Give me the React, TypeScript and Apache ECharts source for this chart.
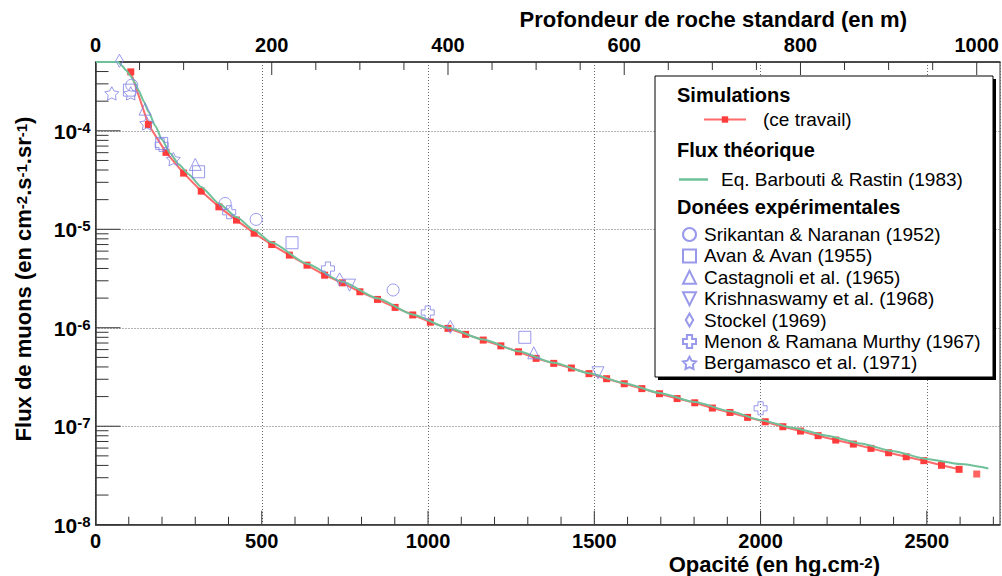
import { useEffect, useRef } from "react";
import * as echarts from "echarts";

const FONT = "'Liberation Sans', Arial, Helvetica, sans-serif";
const BLUE = "#8080e6";
const RED_PT = "#ff3c3c";
const RED_LINE = "#ff6a6a";
const GREEN = "#6fc199";
const AXIS = "#333333";
const GRIDLINE = "#666666";

// Axis ranges
const xMin = 0;
const xMax = 2720; // hg.cm-2
const rockFactor = 2.65; // hg.cm-2 per metre of standard rock
const yMin = 1e-8;
const yMax = 5e-4;

// Bottom axis ticks (opacity) and top axis ticks (metres)
const xMajorTicks = [0, 500, 1000, 1500, 2000, 2500];
const xMinorTicks = [100, 200, 300, 400, 600, 700, 800, 900, 1100, 1200, 1300, 1400, 1600, 1700, 1800, 1900, 2100, 2200, 2300, 2400, 2600, 2700];
const topMajorTicks = [0, 200, 400, 600, 800, 1000];
const topMinorTicks = [50, 100, 150, 250, 300, 350, 450, 500, 550, 650, 700, 750, 850, 900, 950];
const yMajorTicks = [1e-8, 1e-7, 1e-6, 1e-5, 1e-4];
const yMinorTicks = [
  2e-8, 3e-8, 4e-8, 5e-8, 6e-8, 7e-8, 8e-8, 9e-8,
  2e-7, 3e-7, 4e-7, 5e-7, 6e-7, 7e-7, 8e-7, 9e-7,
  2e-6, 3e-6, 4e-6, 5e-6, 6e-6, 7e-6, 8e-6, 9e-6,
  2e-5, 3e-5, 4e-5, 5e-5, 6e-5, 7e-5, 8e-5, 9e-5,
  2e-4, 3e-4, 4e-4,
];

// Simulations (ce travail)
const simOpacity = [106, 159, 212, 265, 318, 371, 424, 477, 530, 583, 636, 689, 742, 795, 848, 901, 954, 1007, 1060, 1113, 1166, 1219, 1272, 1325, 1378, 1431, 1484, 1537, 1590, 1643, 1696, 1749, 1802, 1855, 1908, 1961, 2014, 2067, 2120, 2173, 2226, 2279, 2332, 2385, 2438, 2491, 2544, 2597, 2650];
const simFlux = [3.97e-4, 1.16e-4, 6.04e-5, 3.72e-5, 2.44e-5, 1.69e-5, 1.24e-5, 9.12e-6, 7.0e-6, 5.47e-6, 4.32e-6, 3.42e-6, 2.86e-6, 2.32e-6, 1.94e-6, 1.61e-6, 1.35e-6, 1.14e-6, 9.86e-7, 8.57e-7, 7.5e-7, 6.55e-7, 5.7e-7, 4.89e-7, 4.35e-7, 3.9e-7, 3.42e-7, 3.04e-7, 2.7e-7, 2.41e-7, 2.14e-7, 1.91e-7, 1.73e-7, 1.53e-7, 1.38e-7, 1.23e-7, 1.11e-7, 9.89e-8, 8.93e-8, 8.02e-8, 7.24e-8, 6.59e-8, 5.96e-8, 5.38e-8, 4.9e-8, 4.47e-8, 4.01e-8, 3.65e-8, 3.27e-8];

// Flux théorique (Barbouti & Rastin 1983)
const theoOpacity = [0, 68, 80, 92, 105, 118, 130, 145, 160, 180, 200, 225, 250, 280, 318, 371, 424, 477, 530, 636, 742, 848, 954, 1060, 1166, 1272, 1378, 1484, 1590, 1696, 1802, 1908, 2000, 2100, 2200, 2300, 2400, 2500, 2600, 2685];
const theoFlux = [5.0e-4, 5.0e-4, 4.57e-4, 4.12e-4, 3.63e-4, 3.09e-4, 2.57e-4, 2.0e-4, 1.55e-4, 1.12e-4, 8.13e-5, 5.89e-5, 4.57e-5, 3.63e-5, 2.69e-5, 1.83e-5, 1.33e-5, 9.77e-6, 7.33e-6, 4.47e-6, 2.93e-6, 1.99e-6, 1.36e-6, 9.98e-7, 7.59e-7, 5.77e-7, 4.4e-7, 3.46e-7, 2.74e-7, 2.18e-7, 1.76e-7, 1.42e-7, 1.156e-7, 9.62e-8, 8.02e-8, 6.68e-8, 5.57e-8, 4.65e-8, 4.13e-8, 3.73e-8];

// Données expérimentales [opacité, flux]
const srikantan = [[109, 2.91e-4], [390, 1.83e-5], [483, 1.26e-5], [895, 2.42e-6]];
const avan = [[102, 2.59e-4], [199, 7.45e-5], [310, 3.84e-5], [591, 7.3e-6], [1291, 8.0e-7]];
const castagnoli = [[149, 1.66e-4], [300, 4.56e-5], [1318, 5.57e-7]];
const krishnaswamy = [[764, 2.71e-6], [1511, 3.49e-7]];
const stockel = [[72, 5.15e-4], [734, 3.1e-6], [1067, 1.02e-6]];
const menon = [[199, 7.2e-5], [402, 1.49e-5], [699, 4.0e-6], [999, 1.43e-6], [2000, 1.52e-7]];
const bergamasco = [[49, 2.4e-4], [106, 2.4e-4], [154, 1.19e-4], [234, 5.16e-5]];

const SYM_TRI_DOWN = "path://M0,0L10,0L5,10Z";
const SYM_DIAMOND = "path://M4,0L8,7L4,14L0,7Z";
const SYM_CROSS = "path://M3,0L7,0L7,3L10,3L10,7L7,7L7,10L3,10L3,7L0,7L0,3L3,3Z";
const SYM_STAR = "path://M5,0L6.53,2.9L9.76,3.46L7.47,5.8L7.94,9.05L5,7.6L2.06,9.05L2.53,5.8L0.24,3.46L3.47,2.9Z";

const expSeries = [
  { name: "Srikantan & Naranan (1952)", data: srikantan, symbol: "circle", size: 12 },
  { name: "Avan & Avan (1955)", data: avan, symbol: "rect", size: 12 },
  { name: "Castagnoli et al. (1965)", data: castagnoli, symbol: "triangle", size: 12 },
  { name: "Krishnaswamy et al. (1968)", data: krishnaswamy, symbol: SYM_TRI_DOWN, size: 12 },
  { name: "Stockel (1969)", data: stockel, symbol: SYM_DIAMOND, size: 13 },
  { name: "Menon & Ramana Murthy (1967)", data: menon, symbol: SYM_CROSS, size: 13 },
  { name: "Bergamasco et al. (1971)", data: bergamasco, symbol: SYM_STAR, size: 14 },
];

const richTitle = {
  b: { fontSize: 22, fontWeight: "bold", fontFamily: FONT, color: "#000", lineHeight: 20, verticalAlign: "bottom" },
  s: { fontSize: 15, fontWeight: "bold", fontFamily: FONT, color: "#000", lineHeight: 13, verticalAlign: "top" },
};

function tickSeries(data: number[][], xAxisIndex: number, dir: "up" | "down" | "right", majorLen: number, minorLen: number) {
  return {
    type: "custom",
    xAxisIndex,
    yAxisIndex: 0,
    silent: true,
    clip: false,
    z: 8,
    data,
    renderItem: (_p: any, api: any) => {
      const pt = api.coord([api.value(0), api.value(1)]);
      const len = api.value(2) ? majorLen : minorLen;
      let x2 = pt[0], y2 = pt[1];
      if (dir === "up") y2 = pt[1] - len;
      if (dir === "down") y2 = pt[1] + len;
      if (dir === "right") x2 = pt[0] + len;
      return {
        type: "line",
        shape: { x1: pt[0], y1: pt[1], x2, y2 },
        style: { stroke: AXIS, lineWidth: 1 },
      };
    },
  };
}

export default function App() {
  const ref = useRef<HTMLDivElement>(null);
  useEffect(() => {
    const chart = echarts.init(ref.current!, null, { renderer: "svg" });

    const bottomTickData = [
      ...xMajorTicks.map((v) => [v, yMin, 1]),
      ...xMinorTicks.map((v) => [v, yMin, 0]),
    ];
    const topTickData = [
      ...topMajorTicks.map((v) => [v, yMax, 1]),
      ...topMinorTicks.map((v) => [v, yMax, 0]),
    ];
    const yTickData = [
      ...yMajorTicks.map((v) => [xMin, v, 1]),
      ...yMinorTicks.map((v) => [xMin, v, 0]),
    ];

    const labelStyle = {
      show: true,
      fontSize: 20,
      fontWeight: "bold",
      fontFamily: FONT,
      color: "#000",
      showMaxLabel: false,
      formatter: (v: number) => String(Math.round(v)),
    };

    const option: any = {
      animation: false,
      backgroundColor: "#ffffff",
      textStyle: { fontFamily: FONT },
      grid: {
        left: 95.5,
        right: 2,
        top: 62,
        bottom: 51.3,
        show: true,
        borderColor: AXIS,
        borderWidth: 1,
        backgroundColor: "transparent",
        outerBoundsMode: "none",
      },
      xAxis: [
        {
          type: "value",
          position: "bottom",
          min: xMin,
          max: xMax,
          interval: 500,
          axisLine: { show: true, onZero: false, lineStyle: { color: AXIS, width: 1.5 } },
          axisTick: { show: false },
          axisLabel: { ...labelStyle, margin: 6 },
          splitLine: { show: true, lineStyle: { color: GRIDLINE, type: [1, 2], width: 1 } },
        },
        {
          type: "value",
          position: "top",
          min: 0,
          max: xMax / rockFactor,
          interval: 200,
          axisLine: { show: true, onZero: false, lineStyle: { color: AXIS, width: 1.5 } },
          axisTick: { show: false },
          axisLabel: { ...labelStyle, margin: 7 },
          splitLine: { show: false },
        },
      ],
      yAxis: [
        {
          type: "log",
          logBase: 10,
          min: yMin,
          max: yMax,
          axisLine: { show: true, onZero: false, lineStyle: { color: AXIS, width: 1.5 } },
          axisTick: { show: false },
          axisLabel: {
            show: true,
            margin: 5,
            showMaxLabel: false,
            formatter: (v: number) => `{b|10}{s|${Math.round(Math.log10(v))}}`,
            rich: {
              b: { fontSize: 21, fontWeight: "bold", fontFamily: FONT, color: "#000", lineHeight: 22, verticalAlign: "bottom" },
              s: { fontSize: 15, fontWeight: "bold", fontFamily: FONT, color: "#000", lineHeight: 15, verticalAlign: "top" },
            },
          },
          splitLine: { show: true, lineStyle: { color: GRIDLINE, type: [1, 2], width: 1 } },
        },
      ],
      legend: [
        {
          data: ["(ce travail)"],
          left: 703,
          top: 110,
          padding: 0,
          itemWidth: 42,
          itemHeight: 8,
          selectedMode: false,
          z: 6,
          textStyle: { fontSize: 19, fontFamily: FONT, color: "#000", padding: [0, 0, 0, 12] },
        },
        {
          data: ["Eq. Barbouti & Rastin (1983)"],
          left: 679,
          top: 170,
          padding: 0,
          icon: "rect",
          itemWidth: 29,
          itemHeight: 2.5,
          selectedMode: false,
          z: 6,
          textStyle: { fontSize: 19, fontFamily: FONT, color: "#000", padding: [0, 0, 0, 8] },
        },
        {
          data: expSeries.map((s) => s.name),
          orient: "vertical",
          left: 682,
          top: 225,
          padding: 0,
          itemWidth: 13,
          itemHeight: 13,
          itemGap: 2.4,
          selectedMode: false,
          z: 6,
          textStyle: { fontSize: 19, fontFamily: FONT, color: "#000", lineHeight: 19, padding: [0, 0, 0, 3] },
        },
      ],
      graphic: [
        { type: "rect", z: 4, shape: { x: 658, y: 79, width: 338, height: 301 }, style: { fill: "#000" }, silent: true },
        { type: "rect", z: 5, shape: { x: 655, y: 76, width: 338, height: 301 }, style: { fill: "#fff", stroke: "#000", lineWidth: 1 }, silent: true },
        { type: "text", z: 7, x: 677, y: 95, style: { text: "Simulations", fontSize: 20, fontWeight: "bold", fontFamily: FONT, fill: "#000", align: "left", verticalAlign: "middle" }, silent: true },
        { type: "text", z: 7, x: 677, y: 150, style: { text: "Flux théorique", fontSize: 20, fontWeight: "bold", fontFamily: FONT, fill: "#000", align: "left", verticalAlign: "middle" }, silent: true },
        { type: "text", z: 7, x: 677, y: 207, style: { text: "Donées expérimentales", fontSize: 20, fontWeight: "bold", fontFamily: FONT, fill: "#000", align: "left", verticalAlign: "middle" }, silent: true },
        {
          type: "text",
          z: 7,
          x: 907,
          y: 19,
          style: { text: "Profondeur de roche standard (en m)", fontSize: 22, fontWeight: "bold", fontFamily: FONT, fill: "#000", align: "right", verticalAlign: "middle" },
          silent: true,
        },
        {
          type: "text",
          z: 7,
          x: 880,
          y: 565,
          style: { text: "{b|Opacité (en hg.cm}{s|-2}{b|)}", rich: richTitle, fontSize: 22, fontWeight: "bold", fontFamily: FONT, fill: "#000", align: "right", verticalAlign: "middle" },
          silent: true,
        },
        {
          type: "text",
          z: 7,
          x: 24,
          y: 279,
          rotation: Math.PI / 2,
          style: {
            text: "{b|Flux de muons (en cm}{s|-2}{b|.s}{s|-1}{b|.sr}{s|-1}{b|)}",
            rich: richTitle,
            fontSize: 22,
            fontWeight: "bold",
            fontFamily: FONT,
            fill: "#000",
            align: "center",
            verticalAlign: "middle",
          },
          silent: true,
        },
      ],
      series: [
        {
          name: "(ce travail)",
          type: "line",
          xAxisIndex: 0,
          yAxisIndex: 0,
          z: 3,
          data: simOpacity.slice(0, simOpacity.length - 1).map((x, i) => [x, simFlux[i]]),
          symbol: "rect",
          symbolSize: 7,
          showSymbol: true,
          itemStyle: { color: RED_PT },
          lineStyle: { color: RED_LINE, width: 2 },
        },
        {
          name: "sim-last",
          type: "scatter",
          xAxisIndex: 0,
          yAxisIndex: 0,
          z: 3,
          data: [[simOpacity[simOpacity.length - 1], simFlux[simFlux.length - 1]]],
          symbol: "rect",
          symbolSize: 7,
          itemStyle: { color: RED_PT },
        },
        {
          name: "Eq. Barbouti & Rastin (1983)",
          type: "line",
          xAxisIndex: 0,
          yAxisIndex: 0,
          z: 4,
          data: theoOpacity.map((x, i) => [x, theoFlux[i]]),
          symbol: "none",
          smooth: 0.2,
          smoothMonotone: "x",
          itemStyle: { color: GREEN },
          lineStyle: { color: GREEN, width: 2 },
        },
        ...expSeries.map((s) => ({
          name: s.name,
          type: "scatter",
          xAxisIndex: 0,
          yAxisIndex: 0,
          z: 5,
          clip: false,
          data: s.data,
          symbol: s.symbol,
          symbolSize: s.size,
          symbolKeepAspect: true,
          itemStyle: { color: "rgba(255,255,255,0)", borderColor: BLUE, borderWidth: 1 },
        })),
        tickSeries(bottomTickData, 0, "up", 14, 8),
        tickSeries(topTickData, 1, "down", 13, 8),
        tickSeries(yTickData, 0, "right", 25, 13),
      ],
    };

    chart.setOption(option);
    return () => chart.dispose();
  }, []);

  return <div ref={ref} style={{ position: "fixed", left: 0, top: 0, width: 1002, height: 576 }} />;
}
